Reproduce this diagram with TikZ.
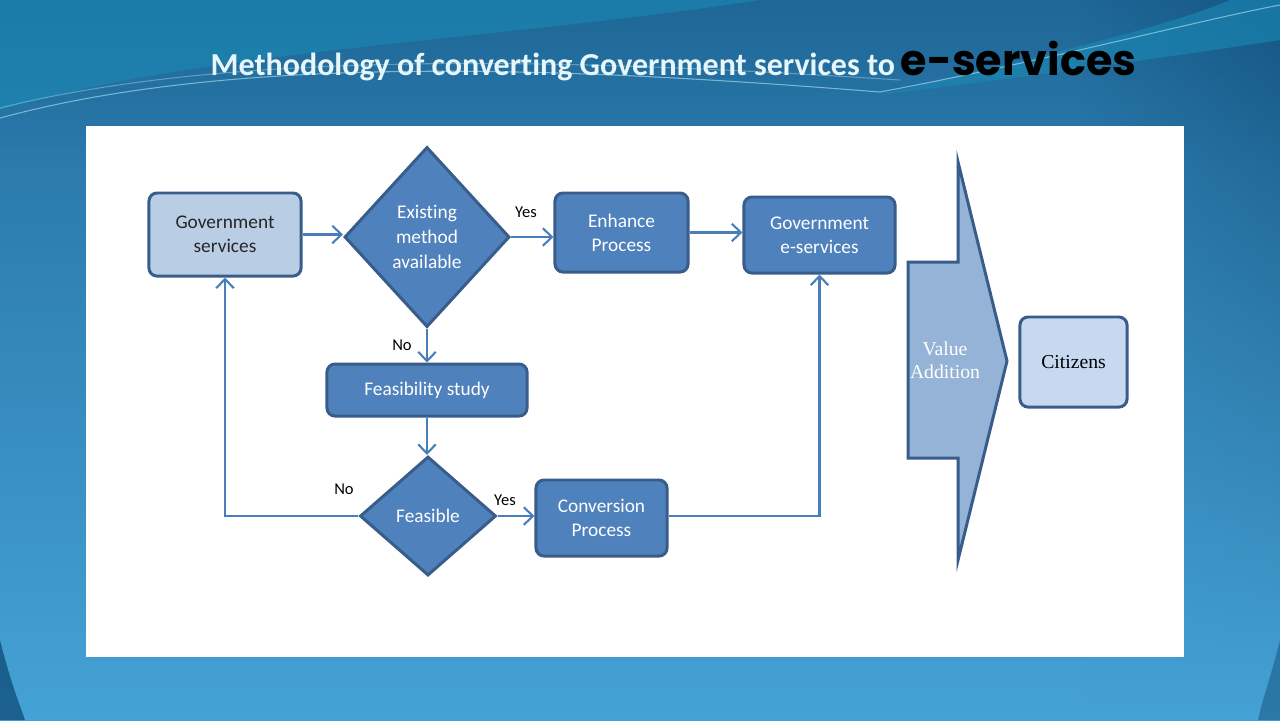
\documentclass[tikz,border=0pt]{standalone}
\usepackage{fontspec}
\setmainfont{Carlito}[Ligatures={NoCommon}]
\newfontfamily\serifx{Liberation Serif}
\newfontfamily\roundx{Poppins}
\usetikzlibrary{arrows.meta,shapes.geometric,fadings}
\definecolor{nodec}{HTML}{4F81BD}
\definecolor{bordc}{HTML}{385D8A}
\definecolor{lightc}{HTML}{B9CDE5}
\definecolor{citc}{HTML}{C6D9F1}
\definecolor{valc}{HTML}{95B3D7}
\definecolor{linec}{HTML}{4A7EBB}
\definecolor{bgtop}{HTML}{236FA0}
\definecolor{bgbot}{HTML}{45A2D5}
\definecolor{swoosh}{HTML}{1A8AB5}
\definecolor{darkedge}{HTML}{12507C}
\definecolor{titlec}{HTML}{E6F6FB}
\tikzset{
  boxdark/.style={rectangle, rounded corners=2.3pt, draw=bordc, line width=0.85pt, fill=nodec, text=white, align=center, font=\fontsize{5.5}{6.9}\selectfont, inner sep=0pt},
  boxlight/.style={boxdark, fill=lightc, text=black!85},
  decision/.style={diamond, draw=bordc, line width=0.85pt, fill=nodec, text=white, align=center, font=\fontsize{5.5}{7.1}\selectfont, inner sep=0pt},
  conn/.style={draw=linec, line width=0.6pt, -{Straight Barb[length=2.6pt,width=5pt,line width=0.6pt]}},
  lbl/.style={font=\fontsize{4.7}{5.5}\selectfont, text=black, inner sep=0pt}
}
\begin{document}
\begin{tikzpicture}[x=0.01cm,y=-0.01cm]
\useasboundingbox (0,0) rectangle (1280,720);
% background
\shade[top color=bgtop, bottom color=bgbot] (0,0) rectangle (1280,720);
\shade[top color=darkedge, bottom color=bgbot, opacity=0.7, path fading=west] (1080,0) rectangle (1280,720);
\fill[darkedge, opacity=0.25, path fading=south] (0,0) rectangle (1280,160);
\fill[swoosh, opacity=0.6] (0,0) -- (760,0) .. controls (500,40) and (200,50) .. (0,110) -- cycle;
\fill[swoosh, opacity=0.6] (1280,0) -- (1280,40) .. controls (1150,60) and (1000,80) .. (880,95) .. controls (1020,60) and (1160,30) .. (1230,0) -- cycle;
\draw[white!70!cyan, opacity=0.6, line width=0.3pt] (0,118) .. controls (250,50) and (600,70) .. (880,92) .. controls (1050,60) and (1200,20) .. (1280,5);
\draw[white!70!cyan, opacity=0.4, line width=0.3pt] (0,108) .. controls (250,45) and (620,62) .. (900,80);
\fill[darkedge, opacity=0.8] (0,640) .. controls (10,680) and (18,700) .. (25,720) -- (0,720) -- cycle;
\fill[darkedge, opacity=0.5] (1280,640) .. controls (1270,680) and (1262,700) .. (1258,720) -- (1280,720) -- cycle;
% title
\node[anchor=base west, inner sep=0pt, text=titlec, font=\fontsize{9.1}{11}\selectfont\bfseries] (title) at (210,75) {Methodology of converting Government services to};
\node[anchor=base west, inner sep=0pt, text=black, font=\fontsize{12.2}{14}\selectfont\roundx\bfseries] (etitle) at (900,75) {e-services};
% panel
\fill[white] (86,126) rectangle (1184,657);
% nodes
\node[boxlight, minimum width=1.52cm, minimum height=0.83cm] (gs) at (225,234.5) {Government\\services};
\node[decision, minimum width=1.65cm, minimum height=1.8cm] (d1) at (427,237) {Existing\\method\\available};
\node[boxdark, minimum width=1.33cm, minimum height=0.79cm] (enh) at (621.5,232.5) {Enhance\\Process};
\node[boxdark, minimum width=1.51cm, minimum height=0.76cm] (ges) at (819.5,235) {Government\\e-services};
\node[boxdark, minimum width=2.0cm, minimum height=0.52cm] (fs) at (427,390) {Feasibility study};
\node[decision, minimum width=1.36cm, minimum height=1.19cm] (d2) at (428,516) {Feasible};
\node[boxdark, minimum width=1.31cm, minimum height=0.76cm] (conv) at (601.5,518) {Conversion\\Process};
\node[boxlight, fill=citc, text=black, minimum width=1.07cm, minimum height=0.90cm, font=\fontsize{5.6}{6.8}\selectfont\serifx] (cit) at (1073.5,362) {Citizens};
% value addition arrow
\filldraw[fill=valc, draw=bordc, line width=0.85pt, line join=miter] (908,262) -- (958,262) -- (958,162) -- (1007,361) -- (958,560) -- (958,458) -- (908,458) -- cycle;
\node[text=white, align=center, inner sep=0pt, font=\fontsize{5.6}{6.6}\selectfont\serifx] (va) at (945,360) {Value\\Addition};
% connectors
\draw[conn] (gs.east) -- (gs.east -| d1.west);
\draw[conn] (d1.east) -- (d1.east -| enh.west);
\draw[conn] (enh.east) -- (enh.east -| ges.west);
\draw[conn] (d1.south) -- (fs.north);
\draw[conn] (fs.south) -- (fs.south |- d2.north);
\draw[conn] (d2.west) -| (gs.south);
\draw[conn] (d2.east) -- (d2.east -| conv.west);
\draw[conn] (conv.east |- d2.east) -| (ges.south);
% labels
\node[lbl] (yes1) at (526,212) {Yes};
\node[lbl] (no1) at (402,345) {No};
\node[lbl] (no2) at (344,489) {No};
\node[lbl] (yes2) at (505,500) {Yes};
\end{tikzpicture}
\end{document}
